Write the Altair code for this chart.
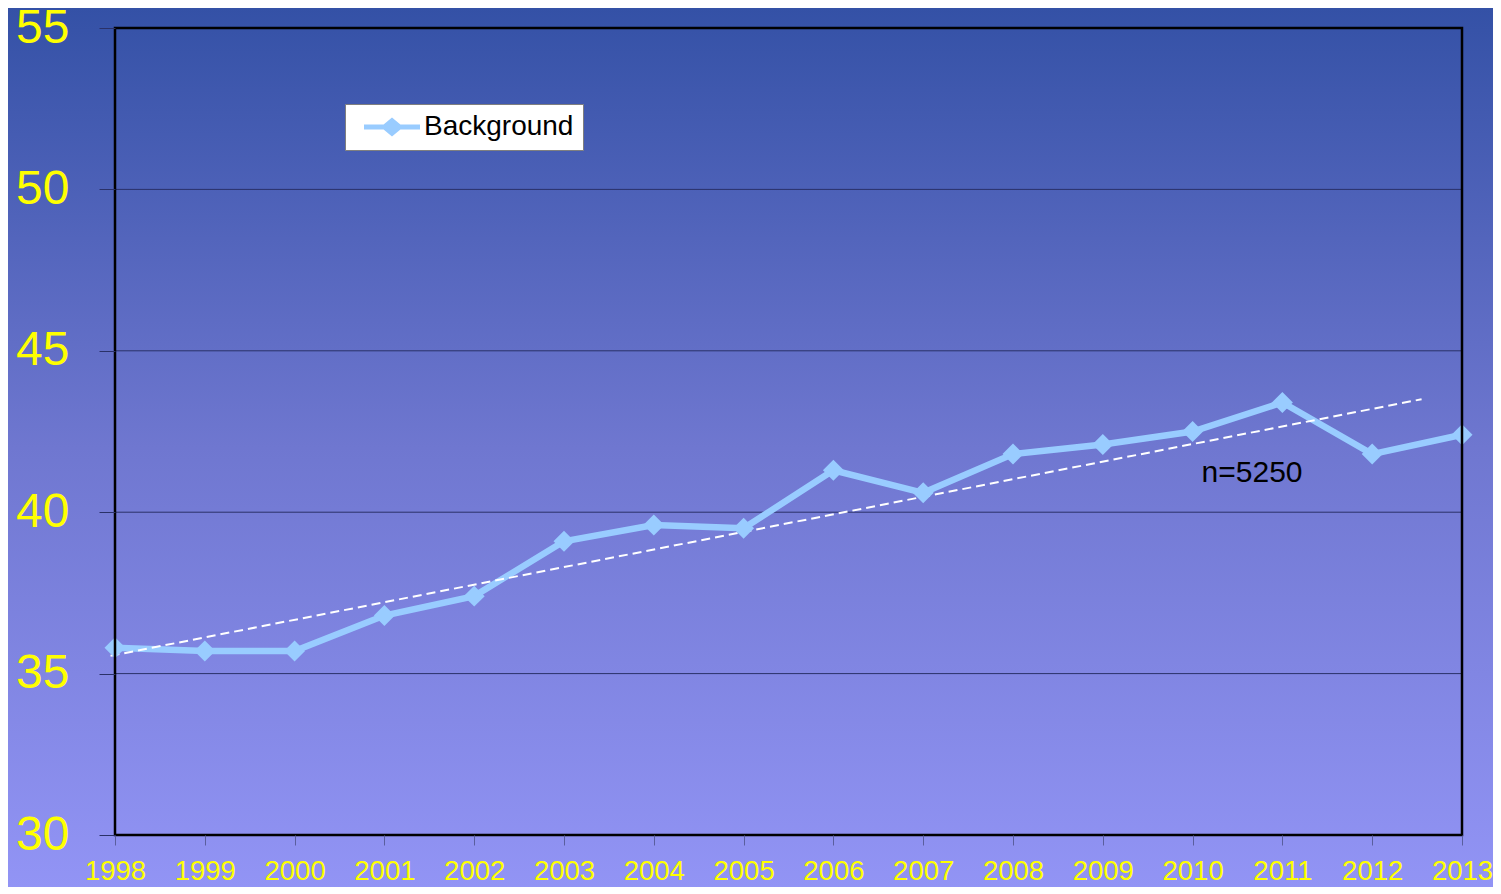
import altair as alt
import pandas as pd

# ---- data ----
years = [1998, 1999, 2000, 2001, 2002, 2003, 2004, 2005,
         2006, 2007, 2008, 2009, 2010, 2011, 2012, 2013]
background = [35.8, 35.7, 35.7, 36.8, 37.4, 39.1, 39.6, 39.5,
              41.3, 40.6, 41.8, 42.1, 42.5, 43.4, 41.8, 42.4]
trend_x = [1997.95, 2012.55]
trend_y = [35.55, 43.5]
y_ticks = [30, 35, 40, 45, 50, 55]
grid_values = [35, 40, 45, 50]
note_text = ["n=5250"]
note_x = [2010.1]
note_y = [41.2]
series_name = "Background"

W, H = 1347, 807
PAD = {"left": 107, "top": 20, "right": 31, "bottom": 52}
FONT = "Liberation Sans"
LINE_COLOR = "#99CCFF"

df = pd.DataFrame({"year": years, "value": background, "series": series_name})
trend = pd.DataFrame({"year": trend_x, "value": trend_y})
note = pd.DataFrame({"year": note_x, "value": note_y, "label": note_text})
grid_df = pd.DataFrame({"value": grid_values})

xscale = alt.Scale(domain=[1998, 2013], nice=False, zero=False)
yscale = alt.Scale(domain=[30, 55], nice=False, zero=False)

grad = alt.LinearGradient(
    gradient="linear",
    stops=[
        alt.GradientStop(color="#3451A6", offset=0),
        alt.GradientStop(color="#6F77D0", offset=0.5),
        alt.GradientStop(color="#9294F5", offset=1),
    ],
    x1=0, x2=0, y1=0, y2=1,
)

bg = alt.Chart(alt.Data(values=[{"a": 1}])).mark_rect(color=grad).encode(
    x=alt.value(-PAD["left"]), x2=alt.value(W + PAD["right"]),
    y=alt.value(-PAD["top"]), y2=alt.value(H + PAD["bottom"]),
)

grid = alt.Chart(grid_df).mark_rule(color="#2A3168", strokeWidth=1).encode(
    y=alt.Y("value:Q", scale=yscale)
)

base = alt.Chart(df)

x_enc = alt.X(
    "year:Q", scale=xscale, title=None,
    axis=alt.Axis(values=years, format="d", grid=False, domain=False, zindex=1,
                  tickSize=10, tickColor="#5A5E9E", tickWidth=1,
                  labelFontSize=27.5, labelColor="#FFFF00", labelFont=FONT,
                  labelPadding=12, labelFlush=False, labelOverlap=False),
)
y_enc = alt.Y(
    "value:Q", scale=yscale, title=None,
    axis=alt.Axis(values=y_ticks, grid=False, domain=False, zindex=1,
                  tickSize=16, tickColor="#2A3168", tickWidth=1,
                  labelFontSize=48, labelColor="#FFFF00", labelFont=FONT,
                  labelPadding=30),
)

line = base.mark_line(color=LINE_COLOR, strokeWidth=6.5).encode(x=x_enc, y=y_enc)

legend_symbol = ("M-2,-0.18L-0.6,-0.18L0,-0.68L0.6,-0.18L2,-0.18L2,0.18"
                 "L0.6,0.18L0,0.68L-0.6,0.18L-2,0.18Z")

points = base.mark_point(filled=True, shape="diamond", size=440, opacity=1).encode(
    x="year:Q", y="value:Q",
    color=alt.Color(
        "series:N", scale=alt.Scale(range=[LINE_COLOR]),
        legend=alt.Legend(
            title=None, orient="none", legendX=230, legendY=76,
            fillColor="white", strokeColor="#7F7F7F", padding=9,
            symbolType=legend_symbol, symbolSize=784, symbolStrokeWidth=0,
            symbolOffset=24, labelOffset=18,
            labelFontSize=28, labelFont=FONT, labelColor="black",
        ),
    ),
)

trend_line = alt.Chart(trend).mark_line(
    color="white", strokeWidth=2, strokeDash=[9, 5]
).encode(x="year:Q", y="value:Q")

note_mark = alt.Chart(note).mark_text(
    align="left", baseline="middle", fontSize=30, font=FONT, color="black"
).encode(x="year:Q", y="value:Q", text="label:N")

frame = alt.Chart(alt.Data(values=[{"a": 1}])).mark_rect(
    fill=None, stroke="black", strokeWidth=2.5
).encode(x=alt.value(0), x2=alt.value(W), y=alt.value(0), y2=alt.value(H))

chart = alt.layer(bg, grid, line, trend_line, points, note_mark, frame).properties(
    width=W, height=H,
    padding=PAD,
    autosize=alt.AutoSizeParams(type="none"),
).configure_view(stroke=None)

chart.save("out.html", embed_options={"renderer": "svg", "actions": False})
